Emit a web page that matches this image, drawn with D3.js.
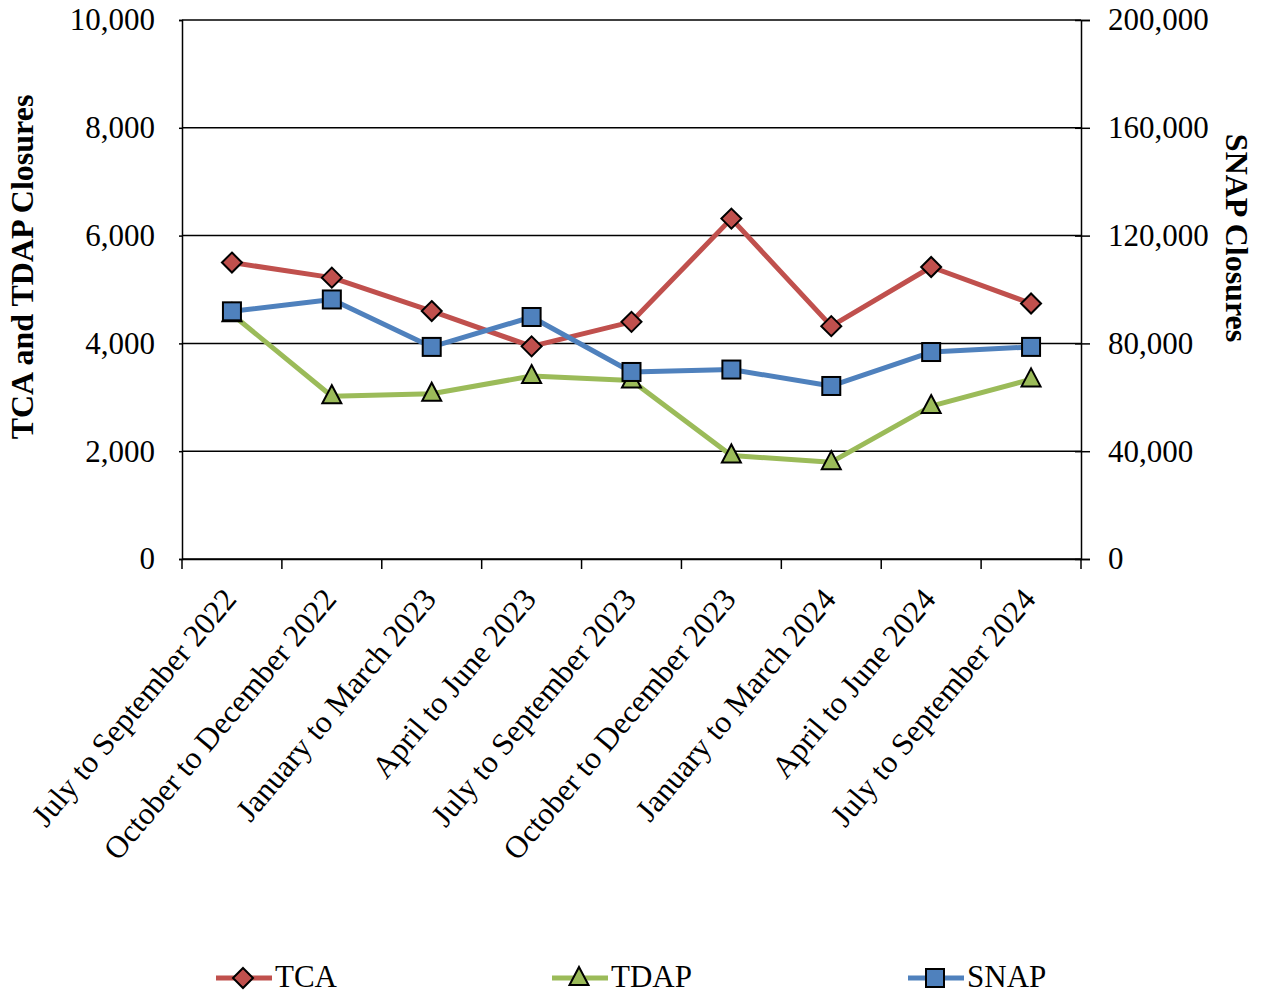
<!DOCTYPE html>
<html>
<head>
<meta charset="utf-8">
<script src="https://cdn.jsdelivr.net/npm/d3@7"></script>
<style>
  html, body { margin: 0; padding: 0; background: #fff; }
  svg { display: block; font-family: "Liberation Serif", "Times New Roman", serif; }
</style>
</head>
<body>
<svg id="chart" width="1261" height="995"></svg>
<script>
// Quarterly closures
const categories = [
  "July to September 2022", "October to December 2022", "January to March 2023",
  "April to June 2023", "July to September 2023", "October to December 2023",
  "January to March 2024", "April to June 2024", "July to September 2024"
];
const tcaValues  = [5500, 5220, 4600, 3945, 4400, 6315, 4320, 5417, 4740];
const tdapValues = [4540, 3020, 3067, 3394, 3313, 1921, 1797, 2837, 3332];
const snapValues = [91900, 96300, 78700, 89800, 69400, 70300, 64200, 76800, 78700];
const leftTicks  = [0, 2000, 4000, 6000, 8000, 10000];
const rightTicks = [0, 40000, 80000, 120000, 160000, 200000];

const svg = d3.select("#chart");
const m = { left: 182, right: 1081, top: 20, bottom: 559 };
const FS = 31;

const x = d3.scaleBand().domain(categories).range([m.left, m.right]).padding(0);
const yL = d3.scaleLinear().domain([0, 10000]).range([m.bottom, m.top]);
const yR = d3.scaleLinear().domain([0, 200000]).range([m.bottom, m.top]);
const fmt = d3.format(",");

// horizontal gridlines
svg.append("g").selectAll("line").data(leftTicks).join("line")
  .attr("x1", m.left).attr("x2", m.right)
  .attr("y1", d => yL(d)).attr("y2", d => yL(d))
  .attr("stroke", "#000").attr("stroke-width", 1.5);

// left axis
const gL = svg.append("g").attr("transform", `translate(${m.left},0)`)
  .call(d3.axisLeft(yL).tickValues(leftTicks).tickFormat(fmt).tickSize(3).tickPadding(24));
// right axis
const gR = svg.append("g").attr("transform", `translate(${m.right},0)`)
  .call(d3.axisRight(yR).tickValues(rightTicks).tickFormat(fmt).tickSize(9).tickPadding(18));
// bottom axis (ticks at category boundaries)
const gB = svg.append("g").attr("transform", `translate(0,${m.bottom})`)
  .call(d3.axisBottom(x).tickSize(0).tickFormat(""));
gB.selectAll(".bnd").data(d3.range(categories.length + 1)).join("line")
  .attr("class", "bnd")
  .attr("x1", i => m.left + i * x.step()).attr("x2", i => m.left + i * x.step())
  .attr("y1", 0).attr("y2", 10).attr("stroke", "#000").attr("stroke-width", 1.5);

[gL, gR, gB].forEach(g => {
  g.select(".domain").attr("stroke", "#000").attr("stroke-width", 1.5);
  g.selectAll(".tick line").attr("stroke", "#000").attr("stroke-width", 1.5);
  g.selectAll("text").attr("font-size", FS).attr("fill", "#000")
    .attr("font-family", "Liberation Serif, Times New Roman, serif");
});
gR.selectAll(".tick line").attr("x1", -6);

// rotated category labels
svg.append("g").selectAll("text").data(categories).join("text")
  .attr("transform", d => `translate(${x(d) + x.bandwidth() / 2 + 6},${m.bottom + 41}) rotate(-50)`)
  .attr("text-anchor", "end")
  .attr("font-size", 31.5)
  .text(d => d);

// axis titles
svg.append("text")
  .attr("transform", "translate(33,267) rotate(-90)")
  .attr("text-anchor", "middle").attr("font-size", 32).attr("font-weight", "bold")
  .text("TCA and TDAP Closures");
svg.append("text")
  .attr("transform", "translate(1226,238) rotate(90)")
  .attr("text-anchor", "middle").attr("font-size", 32).attr("font-weight", "bold")
  .text("SNAP Closures");

const cx = (d, i) => x(categories[i]) + x.bandwidth() / 2;

const series = [
  { name: "TCA",  values: tcaValues,  scale: yL, color: "#C0504D", symbol: "diamond" },
  { name: "TDAP", values: tdapValues, scale: yL, color: "#9BBB59", symbol: "triangle" },
  { name: "SNAP", values: snapValues, scale: yR, color: "#4F81BD", symbol: "square" }
];

function marker(g, type, color) {
  if (type === "diamond") {
    g.append("path").attr("d", "M0,-10L10,0L0,10L-10,0Z");
  } else if (type === "triangle") {
    g.append("path").attr("d", "M0,-11L9.5,7L-9.5,7Z");
  } else {
    g.append("rect").attr("x", -9).attr("y", -9).attr("width", 18).attr("height", 18);
  }
  g.selectAll("path,rect").attr("fill", color).attr("stroke", "#000").attr("stroke-width", 2);
}

series.forEach(s => {
  const line = d3.line().x((d, i) => cx(d, i)).y(d => s.scale(d));
  const g = svg.append("g");
  g.append("path").datum(s.values).attr("d", line)
    .attr("fill", "none").attr("stroke", s.color).attr("stroke-width", 5)
    .attr("stroke-linejoin", "round");
  s.values.forEach((v, i) => {
    const mg = g.append("g").attr("transform", `translate(${cx(v, i)},${s.scale(v)})`);
    marker(mg, s.symbol, s.color);
  });
});

// legend
const legendX = [216, 552, 908];
const legend = svg.append("g");
series.forEach((s, i) => {
  const lg = legend.append("g").attr("transform", `translate(${legendX[i]},978)`);
  lg.append("line").attr("x1", 0).attr("x2", 56).attr("y1", 0).attr("y2", 0)
    .attr("stroke", s.color).attr("stroke-width", 5);
  const mg = lg.append("g").attr("transform", "translate(27,0)");
  marker(mg, s.symbol, s.color);
  lg.append("text").attr("x", 59).attr("y", 9).attr("font-size", 31).text(s.name);
});
</script>
</body>
</html>
